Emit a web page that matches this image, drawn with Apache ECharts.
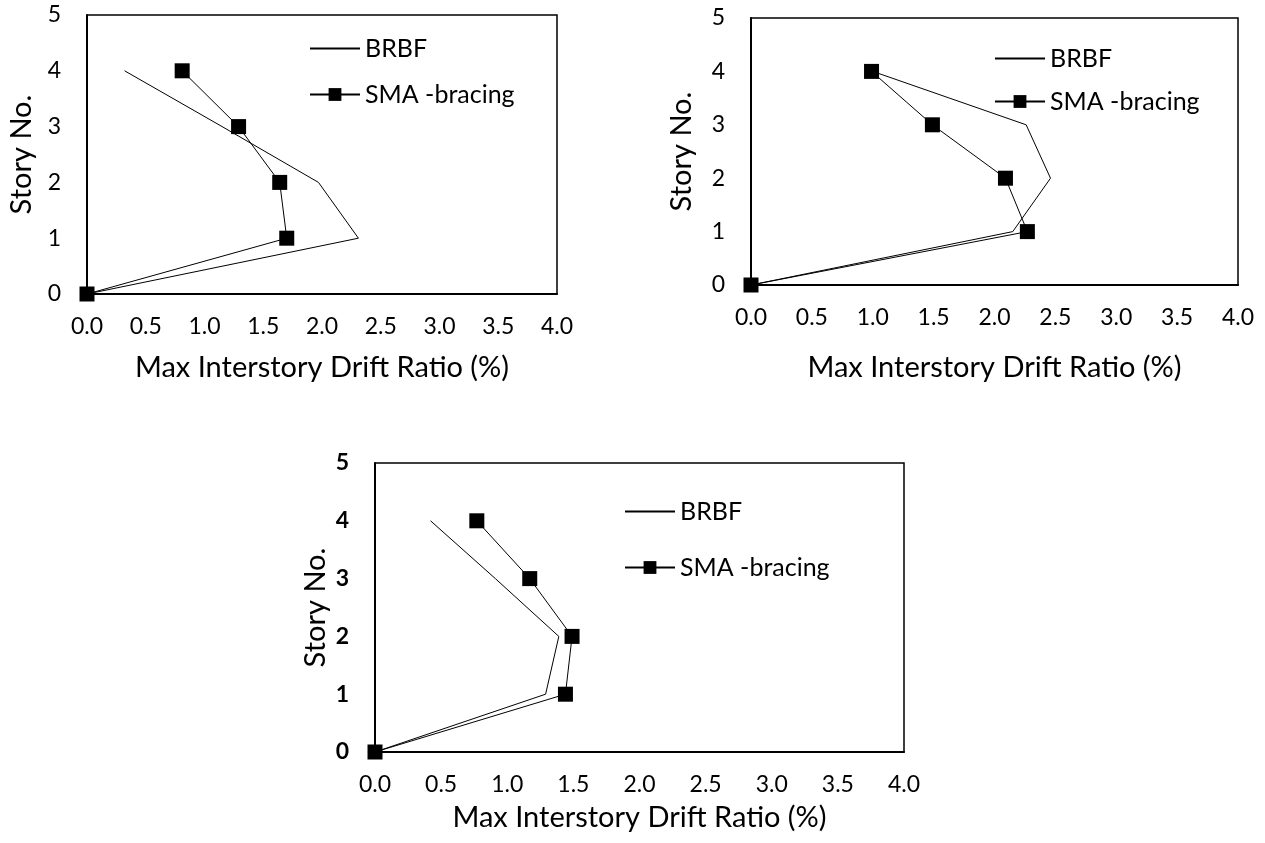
<!DOCTYPE html>
<html>
<head>
<meta charset="utf-8">
<script src="https://cdn.jsdelivr.net/npm/echarts@6/dist/echarts.min.js"></script>
<style>
  html, body { margin: 0; padding: 0; background: #fff; }
  #chart { width: 1265px; height: 843px; }
</style>
</head>
<body>
<div id="chart"></div>
<script>
// Story levels (vertical axis) shared by all three panels
const stories = [0, 1, 2, 3, 4];

// Max interstory drift ratio (%) per story, panel A (top left)
const brbfA = [0, 2.31, 1.97, 1.15, 0.32];
const smaA  = [0, 1.70, 1.64, 1.29, 0.81];

// Panel B (top right)
const brbfB = [0, 2.15, 2.46, 2.26, 1.00];
const smaB  = [0, 2.27, 2.09, 1.49, 0.99];

// Panel C (bottom)
const brbfC = [0, 1.29, 1.39, 0.91, 0.42];
const smaC  = [0, 1.44, 1.49, 1.17, 0.77];

const seriesNames = ['BRBF', 'SMA -bracing'];
const xAxisTitle = 'Max Interstory Drift Ratio (%)';
const yAxisTitle = 'Story No.';

const FONT = 'Lato';

const pairs = (vals) => vals.map((v, i) => [v, stories[i]]);

const grids = [
  { left: 87,  top: 15,  width: 470, height: 279 },
  { left: 751, top: 18,  width: 487, height: 267 },
  { left: 375, top: 463, width: 529, height: 289 }
];

const xNameGap = [59, 68, 51];
const yNameGap = [51, 55, 45];
const yBold = [false, false, true];

function xAxis(i) {
  return {
    type: 'value', gridIndex: i, min: 0, max: 4, interval: 0.5,
    name: xAxisTitle, nameLocation: 'middle', nameGap: xNameGap[i],
    nameTextStyle: { fontFamily: FONT, fontSize: 29, color: '#000' },
    axisLine: { show: true, lineStyle: { color: '#000', width: 2 } },
    axisTick: { show: false },
    splitLine: { show: false },
    axisLabel: {
      fontFamily: FONT, fontSize: 23, color: '#000', margin: 21,
      formatter: (v) => v.toFixed(1)
    }
  };
}

function yAxis(i) {
  return {
    type: 'value', gridIndex: i, min: 0, max: 5, interval: 1,
    name: yAxisTitle, nameLocation: 'middle', nameGap: yNameGap[i],
    nameTextStyle: { fontFamily: FONT, fontSize: 29, color: '#000' },
    axisLine: { show: true, lineStyle: { color: '#000', width: 2 } },
    axisTick: { show: false },
    splitLine: { show: false },
    axisLabel: {
      fontFamily: FONT, fontSize: 23, color: '#000', margin: 26,
      fontWeight: yBold[i] ? 'bold' : 'normal'
    }
  };
}

function brbfSeries(i, vals) {
  return {
    name: seriesNames[0], type: 'line', xAxisIndex: i, yAxisIndex: i,
    data: pairs(vals), symbol: 'none', clip: false,
    lineStyle: { color: '#000', width: 1 }, itemStyle: { color: '#000' },
    animation: false, z: 2
  };
}

function smaSeries(i, vals) {
  return {
    name: seriesNames[1], type: 'line', xAxisIndex: i, yAxisIndex: i,
    data: pairs(vals), symbol: 'rect', symbolSize: 15, clip: false,
    lineStyle: { color: '#000', width: 1 }, itemStyle: { color: '#000' },
    animation: false, z: 3
  };
}

const legendPos = [
  { left: 304, top: 31, itemGap: 21 },
  { left: 989, top: 41, itemGap: 18 },
  { left: 619, top: 494, itemGap: 31 }
];

// BRBF is a plain line, so its legend entry carries no marker
const legendData = [
  { name: seriesNames[0], itemStyle: { color: 'rgba(0,0,0,0)', borderWidth: 0 } },
  { name: seriesNames[1] }
];

const chart = echarts.init(document.getElementById('chart'));
chart.setOption({
  backgroundColor: '#fff',
  animation: false,
  grid: grids.map(g => Object.assign({ show: true, borderColor: '#000', borderWidth: 1.5, containLabel: false }, g)),
  xAxis: [0, 1, 2].map(xAxis),
  yAxis: [0, 1, 2].map(yAxis),
  legend: legendPos.map(p => ({
    data: legendData, orient: 'vertical', left: p.left, top: p.top,
    itemGap: p.itemGap, itemWidth: 50, itemHeight: 16, selectedMode: false,
    textStyle: { fontFamily: FONT, fontSize: 25, color: '#000' }
  })),
  series: [
    brbfSeries(0, brbfA), smaSeries(0, smaA),
    brbfSeries(1, brbfB), smaSeries(1, smaB),
    brbfSeries(2, brbfC), smaSeries(2, smaC)
  ]
});
</script>
</body>
</html>
